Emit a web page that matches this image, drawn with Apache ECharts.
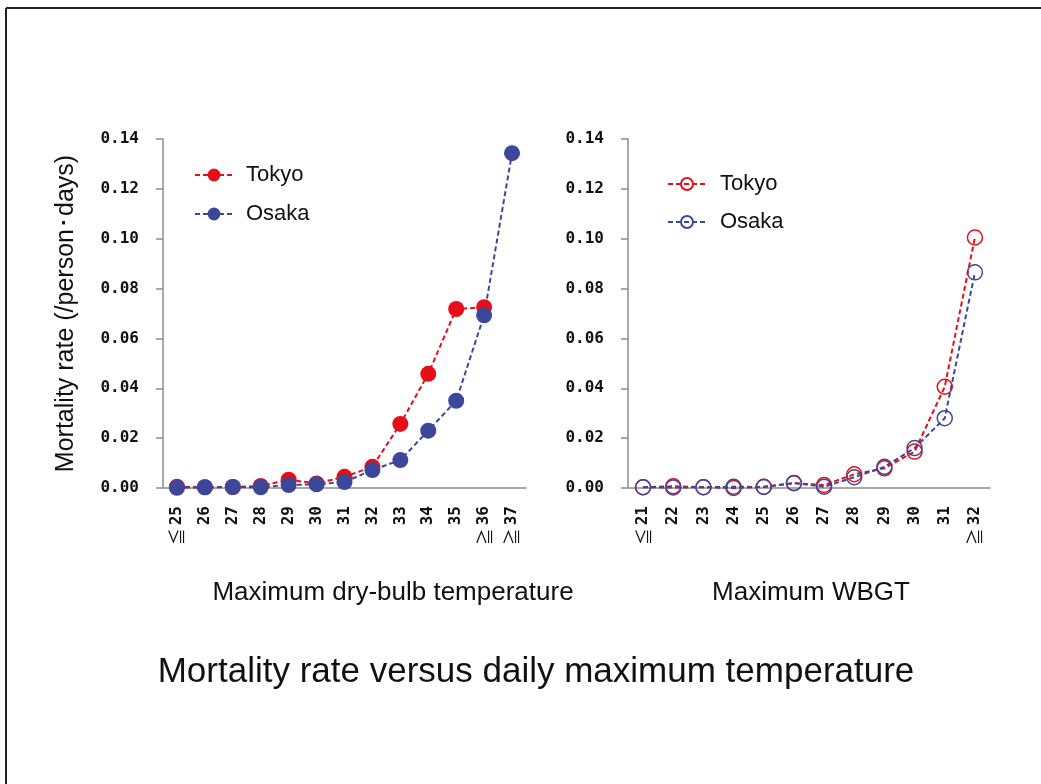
<!DOCTYPE html>
<html>
<head>
<meta charset="utf-8">
<script src="https://cdn.jsdelivr.net/npm/echarts@6/dist/echarts.min.js"></script>
<style>html,body{margin:0;padding:0;background:#fff;}#c{width:1041px;height:784px;}</style>
</head>
<body>
<div id="c"></div>
<script>
// ---- data ----
const dryCats = ['≦25','26','27','28','29','30','31','32','33','34','35','≧36','≧37'];
const tokyoDry = [0.0005,0.0003,0.0004,0.0008,0.0033,0.0018,0.0045,0.0085,0.0257,0.0458,0.0718,0.0725,null];
const osakaDry = [0.0001,0.0003,0.0004,0.0003,0.0012,0.0015,0.0024,0.0072,0.0112,0.0230,0.0350,0.0693,0.1343];

const wbgtCats = ['≦21','22','23','24','25','26','27','28','29','30','31','≧32'];
const tokyoWbgt = [0.0003,0.0007,0.0003,0.0000,0.0005,0.0019,0.0012,0.0055,0.0079,0.0146,0.0406,0.1005];
const osakaWbgt = [0.0003,0.0002,0.0003,0.0005,0.0004,0.0020,0.0005,0.0043,0.0085,0.0160,0.0280,0.0865];

const yTicks = {min:0, max:0.14, interval:0.02};
const seriesNames = ['Tokyo','Osaka'];
const yName = 'Mortality rate (/person･days)';
const xNames = ['Maximum dry-bulb temperature','Maximum WBGT'];
const mainTitle = 'Mortality rate versus daily maximum temperature';

// ---- styles ----
const RED = '#e60f19';
const BLUE = '#3c479b';
const AXIS = '#8c8c8c';
const tickFont = {fontFamily:'DejaVu Sans Mono', fontSize:16, fontWeight:'bold', color:'#111'};
const textFont = 'Liberation Sans, Arial, sans-serif';

function catFormatter(v){
  const c = v.charAt(0);
  if(c === '≦' || c === '≧') return '{s|' + c + '}{n|' + v.slice(1) + '}';
  return '{n|' + v + '}';
}
function xAxis(idx, cats){
  return {
    type:'category', gridIndex:idx, data:cats, boundaryGap:true,
    axisLine:{lineStyle:{color:AXIS, width:1.5}},
    axisTick:{alignWithLabel:false, length:7, lineStyle:{color:AXIS, width:1.5}},
    axisLabel:{rotate:90, margin:18, interval:0, formatter:catFormatter,
      rich:{
        n:{fontFamily:'DejaVu Sans Mono', fontSize:16, fontWeight:'bold', color:'#111'},
        s:{fontFamily:'Noto Sans CJK JP', fontSize:17, color:'#111', padding:[0,3,0,0]}
      }}
  };
}
function yAxis(idx, withName){
  const a = {
    type:'value', gridIndex:idx, min:yTicks.min, max:yTicks.max, interval:yTicks.interval,
    splitLine:{show:false},
    axisLine:{show:true, lineStyle:{color:AXIS, width:1.5}},
    axisTick:{show:true, length:7, lineStyle:{color:AXIS, width:1.5}},
    axisLabel:Object.assign({margin:24, formatter:v=>v.toFixed(2)}, tickFont)
  };
  if(withName){
    a.name = yName; a.nameLocation='middle'; a.nameGap=84;
    a.nameTextStyle={fontFamily:textFont, fontSize:25, color:'#111'};
  }
  return a;
}
function filledSeries(name, data, color, xi){
  return {
    name, type:'line', xAxisIndex:xi, yAxisIndex:xi, data,
    symbol:'circle', symbolSize:16, connectNulls:false,
    itemStyle:{color},
    lineStyle:{color, width:2, type:[5,3]},
    emphasis:{disabled:true}
  };
}
function hollowSeries(name, data, color, xi){
  return {
    name, type:'line', xAxisIndex:xi, yAxisIndex:xi, data,
    symbol:'circle', symbolSize:15,
    itemStyle:{color:'rgba(255,255,255,0)', borderColor:color, borderWidth:1.5},
    lineStyle:{color, width:2, type:[5,3]},
    emphasis:{disabled:true}
  };
}

const chart = echarts.init(document.getElementById('c'), null, {renderer:'canvas'});
chart.setOption({
  animation:false,
  backgroundColor:'#fff',
  grid:[
    {left:163, top:139, width:363, height:349},
    {left:628, top:139, width:362, height:349}
  ],
  xAxis:[xAxis(0, dryCats), xAxis(1, wbgtCats)],
  yAxis:[yAxis(0, true), yAxis(1, false)],
  legend:[
    {orient:'vertical', left:189, top:159, itemWidth:38, itemHeight:16, itemGap:17,
     data:seriesNames.slice(),
     textStyle:{fontFamily:textFont, fontSize:22, color:'#111', padding:[0,0,0,8]},
     selectedMode:false},
    {orient:'vertical', left:662, top:168, itemWidth:38, itemHeight:15, itemGap:16,
     data:seriesNames.map(n=>n+' '),
     textStyle:{fontFamily:textFont, fontSize:22, color:'#111', padding:[0,0,0,9]},
     selectedMode:false}
  ],
  series:[
    filledSeries(seriesNames[0], tokyoDry, RED, 0),
    filledSeries(seriesNames[1], osakaDry, BLUE, 0),
    hollowSeries(seriesNames[0]+' ', tokyoWbgt, RED, 1),
    hollowSeries(seriesNames[1]+' ', osakaWbgt, BLUE, 1)
  ],
  graphic:[
    {type:'line', shape:{x1:6, y1:8, x2:1041, y2:8}, style:{stroke:'#222', lineWidth:2}},
    {type:'line', shape:{x1:6, y1:8, x2:6, y2:784}, style:{stroke:'#222', lineWidth:2}},
    {type:'text', x:393, y:593, style:{text:xNames[0], fill:'#111', font:'26px '+textFont, textAlign:'center', textVerticalAlign:'middle'}},
    {type:'text', x:811, y:593, style:{text:xNames[1], fill:'#111', font:'26px '+textFont, textAlign:'center', textVerticalAlign:'middle'}},
    {type:'text', x:536, y:672, style:{text:mainTitle, fill:'#111', font:'35px '+textFont, textAlign:'center', textVerticalAlign:'middle'}}
  ]
});
</script>
</body>
</html>
